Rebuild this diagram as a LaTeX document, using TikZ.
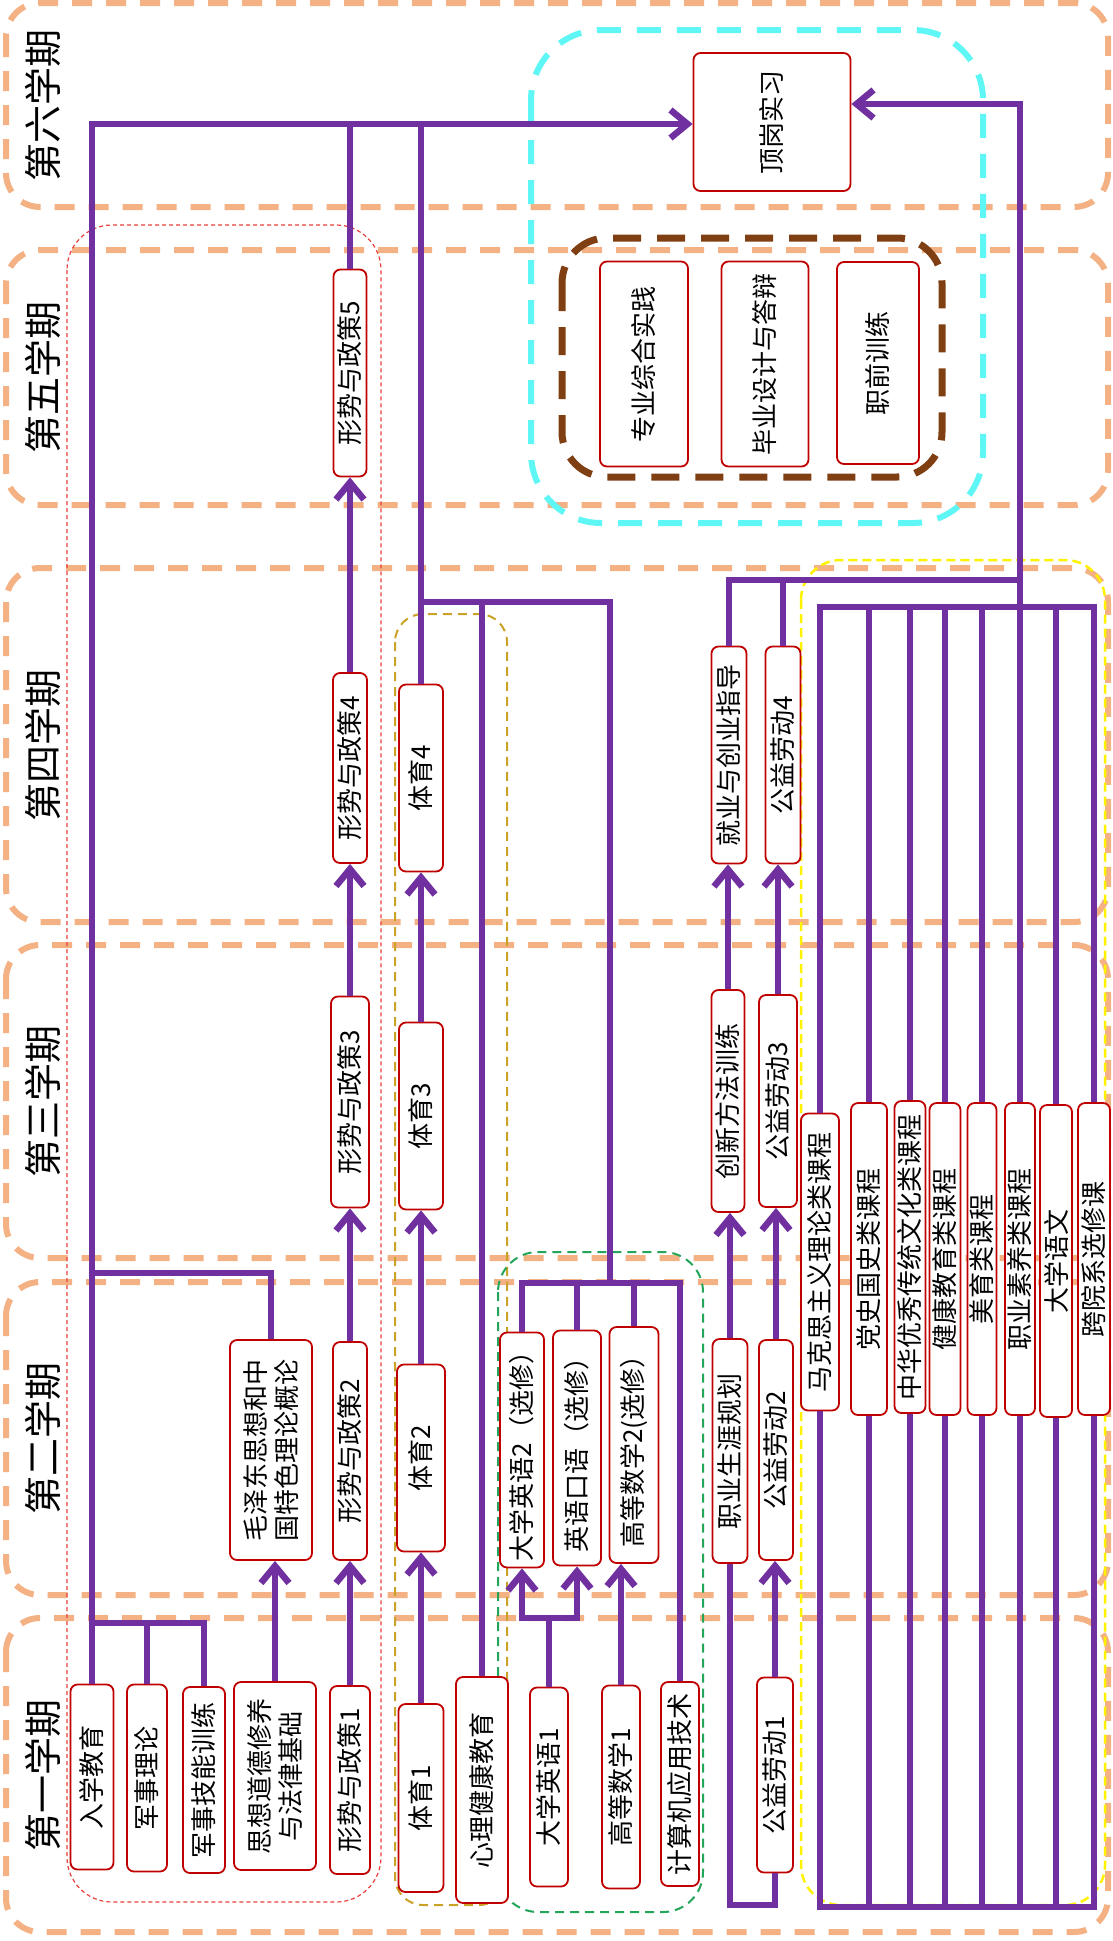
\documentclass[tikz,border=0pt]{standalone}
\usepackage{fontspec}
\newfontfamily\cjk{Noto Sans CJK SC}
\usetikzlibrary{arrows.meta}
\definecolor{bandorange}{HTML}{F4B183}
\definecolor{boxred}{HTML}{C00000}
\definecolor{linkpurple}{HTML}{7030A0}
\definecolor{polred}{HTML}{E8413C}
\definecolor{peolive}{HTML}{C9A227}
\definecolor{engreen}{HTML}{23A55A}
\definecolor{geyellow}{HTML}{FFF200}
\definecolor{praccyan}{HTML}{5EF7F5}
\definecolor{thesisbrown}{HTML}{7F3F12}

\begin{document}
\begin{tikzpicture}[
  x=1pt, y=-1pt,
  every node/.style={align=center},
  >={Straight Barb[length=17pt, width=28pt]},
  semband/.style={draw=bandorange, line width=6pt, dash pattern=on 20pt off 14pt, rounded corners=34pt},
  semlab/.style={rotate=90, font=\cjk\fontsize{38pt}{42pt}\selectfont},
  course/.style={
    rectangle, rounded corners=7pt, draw=boxred, line width=1.8pt,
    fill=white, rotate=90, inner sep=2pt, font=\cjk\fontsize{26pt}{31pt}\selectfont
  },
  polgrp/.style={draw=polred, line width=1.2pt, dash pattern=on 4pt off 3pt, rounded corners=45pt},
  pegrp/.style={draw=peolive, line width=2pt, dash pattern=on 9pt off 6pt, rounded corners=28pt},
  enggrp/.style={draw=engreen, line width=2pt, dash pattern=on 9pt off 6pt, rounded corners=40pt},
  gegrp/.style={draw=geyellow, line width=2.5pt, dash pattern=on 9pt off 5pt, rounded corners=40pt},
  pracgrp/.style={draw=praccyan, line width=6pt, dash pattern=on 24pt off 16pt, rounded corners=70pt},
  thesisgrp/.style={draw=thesisbrown, line width=7pt, dash pattern=on 28pt off 16pt, rounded corners=45pt},
  link/.style={draw=linkpurple, line width=6.5pt},
  flow/.style={link, ->},
]
\useasboundingbox (0,0) rectangle (1113,1941);
\fill[white] (0,0) rectangle (1113,1941);

% semesters
\foreach \name/\ytop/\ybot/\lab in {s1/1618/1932/第一学期, s2/1282/1595/第二学期, s3/945/1258/第三学期,
    s4/568/922/第四学期, s5/250/505/第五学期, s6/3/207/第六学期} {
  \draw[semband] (6,\ytop) rectangle (1108,\ybot);
  \node[semlab] (\name) at (43,{(\ytop+\ybot)/2}) {\lab};
}

% groups
\draw[polgrp]    (67,225)  rectangle (381,1902);
\draw[pegrp]     (395,614) rectangle (507,1905);
\draw[enggrp]    (498,1252) rectangle (703,1912);
\draw[gegrp]     (801,560) rectangle (1105,1905);
\draw[pracgrp]   (531,30)  rectangle (983,523);
\draw[thesisgrp] (562,238) rectangle (942,477);

% semester 1
\node[course, minimum width=185pt, minimum height=43pt] (ruxue) at (92,1777)  {入学教育};
\node[course, minimum width=187pt, minimum height=40pt] (junli) at (147,1778)  {军事理论};
\node[course, minimum width=186pt, minimum height=42pt] (junji) at (204,1780)  {军事技能训练};
\node[course, minimum width=188pt, minimum height=82pt] (sixiu) at (275,1776)  {思想道德修养\\与法律基础};
\node[course, minimum width=188pt, minimum height=40pt] (xs1)   at (350,1780)  {形势与政策1};
\node[course, minimum width=188pt, minimum height=45pt] (ty1)   at (421,1798)  {体育1};
\node[course, minimum width=226pt, minimum height=52pt] (xl)    at (482,1790)  {心理健康教育};
\node[course, minimum width=199pt, minimum height=38pt] (ey1)   at (549,1787)  {大学英语1};
\node[course, minimum width=203pt, minimum height=38pt] (gs1)   at (621,1787)  {高等数学1};
\node[course, minimum width=204pt, minimum height=38pt] (jsj)   at (680,1784)  {计算机应用技术};
\node[course, minimum width=195pt, minimum height=36pt] (gy1)   at (775,1775)  {公益劳动1};

% semester 2
\node[course, minimum width=220pt, minimum height=82pt] (mao) at (271,1450) {毛泽东思想和中\\国特色理论概论};
\node[course, minimum width=218pt, minimum height=34pt] (xs2) at (350,1451) {形势与政策2};
\node[course, minimum width=187pt, minimum height=48pt] (ty2) at (421,1458) {体育2};
\node[course, minimum width=235pt, minimum height=44pt] (ey2) at (522,1450) {大学英语2（选修）};
\node[course, minimum width=235pt, minimum height=48pt] (ky)  at (577,1448) {英语口语（选修）};
\node[course, minimum width=236pt, minimum height=49pt] (gs2) at (634,1445) {高等数学2(选修）};
\node[course, minimum width=224pt, minimum height=35pt] (zy)  at (730,1451) {职业生涯规划};
\node[course, minimum width=220pt, minimum height=34pt] (gy2) at (776,1450) {公益劳动2};

% semester 3
\node[course, minimum width=211pt, minimum height=38pt] (xs3)  at (350,1102) {形势与政策3};
\node[course, minimum width=187pt, minimum height=44pt] (ty3)  at (421,1116) {体育3};
\node[course, minimum width=222pt, minimum height=33pt] (cxxl) at (728,1101) {创新方法训练};
\node[course, minimum width=212pt, minimum height=38pt] (gy3)  at (778,1101) {公益劳动3};
\node[course, minimum width=297pt, minimum height=38pt] (mk) at (820,1262)  {马克思主义理论类课程};
\node[course, minimum width=312pt, minimum height=36pt] (ds) at (869,1259)  {党史国史类课程};
\node[course, minimum width=312pt, minimum height=31pt] (zh) at (910,1257)  {中华优秀传统文化类课程};
\node[course, minimum width=312pt, minimum height=31pt] (jk) at (945,1259)  {健康教育类课程};
\node[course, minimum width=312pt, minimum height=29pt] (my) at (982,1259)  {美育类课程};
\node[course, minimum width=312pt, minimum height=30pt] (zs) at (1020,1259) {职业素养类课程};
\node[course, minimum width=312pt, minimum height=32pt] (dy) at (1056,1261) {大学语文};
\node[course, minimum width=312pt, minimum height=32pt] (kx) at (1094,1259) {跨院系选修课};

% semester 4
\node[course, minimum width=190pt, minimum height=34pt] (xs4) at (350,768) {形势与政策4};
\node[course, minimum width=187pt, minimum height=44pt] (ty4) at (421,778) {体育4};
\node[course, minimum width=217pt, minimum height=35pt] (jy)  at (729,755) {就业与创业指导};
\node[course, minimum width=217pt, minimum height=35pt] (gy4) at (783,755) {公益劳动4};

% semester 5
\node[course, minimum width=207pt, minimum height=33pt] (xs5)  at (350,373) {形势与政策5};
\node[course, minimum width=205pt, minimum height=88pt] (zhsj) at (644,364) {专业综合实践};
\node[course, minimum width=205pt, minimum height=87pt] (bysj) at (765,364) {毕业设计与答辩};
\node[course, minimum width=202pt, minimum height=82pt] (zqxl) at (878,363) {职前训练};

% semester 6
\node[course, minimum width=138pt, minimum height=157pt] (dg) at (772,122) {顶岗实习};

\coordinate (tline) at (0,124);
\coordinate (rline) at (0,104);
\coordinate (ebar)  at (0,1623);
\coordinate (mbar)  at (0,1273);
\coordinate (hub)   at (610,602);
\coordinate (gbar)  at (0,1283);
\coordinate (ebrk)  at (0,1618);
\coordinate (lbot)  at (0,1905);
\coordinate (jbar)  at (0,580);
\coordinate (gtop)  at (0,607);
\coordinate (gbot)  at (0,1907);

% politics and entry courses
\draw[flow] (ruxue.east) -- (ruxue.east |- tline) -- (dg.north |- tline);
\draw[link] (ruxue.east |- ebar) -| (junji.east);
\draw[link] (junli.east) -- (junli.east |- ebar);
\draw[link] (mao.east) |- (ruxue.east |- mbar);
\draw[flow] (sixiu.east) -- (sixiu.east |- mao.west);
\foreach \a/\b in {xs1/xs2, xs2/xs3, xs3/xs4, xs4/xs5}
  \draw[flow] (\a.east) -- (\a.east |- \b.west);
\draw[link] (xs5.east) -- (xs5.east |- tline);

% PE, health, english, maths
\foreach \a/\b in {ty1/ty2, ty2/ty3, ty3/ty4}
  \draw[flow] (\a.east) -- (\a.east |- \b.west);
\draw[link] (ty4.east) -- (ty4.east |- tline);
\draw[link] (xl.east) -- (xl.east |- hub);
\draw[link] (hub |- gbar) -- (hub) -- (ty4.east |- hub);
\draw[link] (ey2.east) -- (ey2.east |- gbar) -| (jsj.east);
\draw[link] (ky.east) -- (ky.east |- gbar);
\draw[link] (gs2.east) -- (gs2.east |- gbar);
\draw[link] (ey1.east) -- (ey1.east |- ebrk);
\draw[link, <->] (ey2.west) -- (ey2.west |- ebrk) -- (ky.west |- ebrk) -- (ky.west);
\draw[flow] (gs1.east) -- (gs1.east |- gs2.west);

% career and labour
\draw[link] (gy1.west) -- (gy1.west |- lbot) -| (zy.west);
\foreach \a/\b in {gy1/gy2, gy2/gy3, gy3/gy4, zy/cxxl, cxxl/jy}
  \draw[flow] (\a.east) -- (\a.east |- \b.west);
\draw[link] (jy.east) -- (jy.east |- jbar) -- (zs.east |- jbar);
\draw[link] (gy4.east) -- (gy4.east |- jbar);

% general education
\draw[link] (mk.east) -- (mk.east |- gtop) -- (kx.east |- gtop) -- (kx.east);
\draw[link] (mk.west) -- (mk.west |- gbot) -- (kx.west |- gbot) -- (kx.west);
\foreach \g in {ds,zh,jk,my,dy} {
  \draw[link] (\g.east) -- (\g.east |- gtop);
  \draw[link] (\g.west) -- (\g.west |- gbot);
}
\draw[link] (zs.west) -- (zs.west |- gbot);
\draw[flow] (zs.east) -- (zs.east |- rline) -- (dg.south |- rline);
\end{tikzpicture}
\end{document}
